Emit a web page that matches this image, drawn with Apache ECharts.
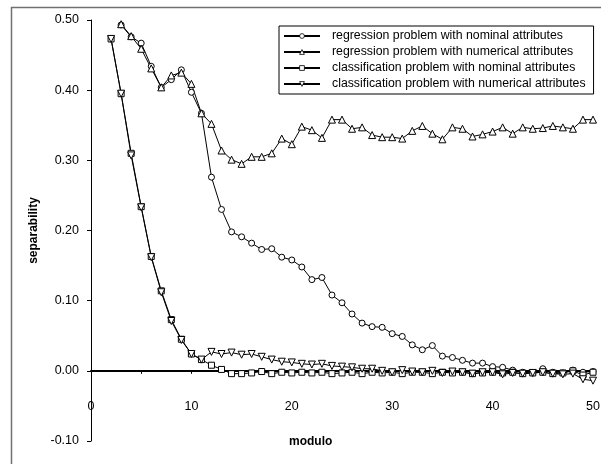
<!DOCTYPE html>
<html>
<head>
<meta charset="utf-8">
<script src="https://cdn.jsdelivr.net/npm/echarts@6/dist/echarts.min.js"></script>
<style>
html,body{margin:0;padding:0;background:#fff;}
#chart{width:601px;height:464px;}
</style>
</head>
<body>
<div id="chart"></div>
<script>
var modulo = [2,3,4,5,6,7,8,9,10,11,12,13,14,15,16,17,18,19,20,21,22,23,24,25,26,27,28,29,30,31,32,33,34,35,36,37,38,39,40,41,42,43,44,45,46,47,48,49,50];

var regNominal = [null,0.493,0.476,0.467,0.434,0.404,0.415,0.429,0.397,0.367,0.276,0.230,0.198,0.191,0.182,0.173,0.174,0.162,0.158,0.148,0.130,0.133,0.108,0.097,0.081,0.068,0.063,0.062,0.053,0.049,0.037,0.030,0.036,0.021,0.019,0.015,0.011,0.011,0.006,0.005,0.001,-0.002,-0.003,0.003,-0.002,-0.003,0.001,-0.002,-0.001];

var regNumerical = [null,0.494,0.477,0.459,0.431,0.404,0.421,0.425,0.409,0.367,0.352,0.314,0.301,0.295,0.305,0.305,0.310,0.331,0.323,0.348,0.343,0.332,0.358,0.358,0.345,0.347,0.336,0.333,0.333,0.331,0.342,0.349,0.338,0.330,0.347,0.345,0.334,0.337,0.341,0.347,0.338,0.347,0.345,0.346,0.349,0.347,0.345,0.358,0.358];

var clsNominal = [0.473,0.395,0.310,0.234,0.163,0.114,0.073,0.045,0.024,0.016,0.008,0.002,-0.004,-0.004,-0.003,-0.001,-0.004,-0.002,-0.003,-0.002,-0.003,-0.002,-0.004,-0.003,-0.002,-0.004,-0.002,-0.003,-0.002,-0.004,-0.002,-0.002,-0.004,-0.002,-0.003,-0.002,-0.004,-0.003,-0.002,-0.003,-0.002,-0.004,-0.003,-0.002,-0.004,-0.003,0.000,-0.006,-0.002];

var clsNumerical = [0.473,0.395,0.307,0.233,0.162,0.112,0.071,0.044,0.024,0.016,0.027,0.024,0.026,0.023,0.024,0.020,0.016,0.013,0.012,0.010,0.009,0.010,0.007,0.006,0.005,0.003,0.003,0.000,-0.002,0.001,-0.001,-0.002,0.000,-0.003,-0.001,-0.002,-0.004,-0.002,-0.002,-0.005,-0.003,-0.004,-0.003,-0.002,-0.004,-0.005,-0.004,-0.012,-0.014];

var seriesNames = [
  'regression problem with nominal attributes',
  'regression problem with numerical attributes',
  'classification problem with nominal attributes',
  'classification problem with numerical attributes'
];

function pairs(vals){
  var out = [];
  for (var i = 0; i < modulo.length; i++) {
    if (vals[i] !== null) out.push([modulo[i], vals[i]]);
  }
  return out;
}

var FONT = '"Liberation Sans", Arial, sans-serif';
var chart = echarts.init(document.getElementById('chart'), null, {renderer:'canvas'});

function mkSeries(name, vals, symbol, size){
  return {
    name: name,
    type: 'line',
    data: pairs(vals),
    symbol: symbol,
    symbolSize: size,
    showAllSymbol: true,
    lineStyle: {color:'#000', width:1},
    itemStyle: {color:'#fff', borderColor:'#000', borderWidth:1},
    emphasis: {disabled:true}
  };
}

var option = {
  animation: false,
  backgroundColor: '#fff',
  grid: {left:91, right:8, top:20, bottom:23, containLabel:false, outerBoundsMode:'none'},
  xAxis: {
    type: 'value',
    min: 0, max: 50, interval: 10,
    axisLine: {onZero:true, lineStyle:{color:'#000', width:2}},
    axisTick: {show:true, inside:false, length:3, lineStyle:{color:'#000', width:1}},
    minorTick: {show:true, splitNumber:2, length:3, lineStyle:{color:'#000', width:1}},
    axisLabel: {color:'#000', fontFamily:FONT, fontSize:12.5, margin:-41},
    splitLine: {show:false}
  },
  yAxis: {
    type: 'value',
    min: -0.1, max: 0.5, interval: 0.1,
    name: 'separability',
    nameLocation: 'middle',
    nameGap: 51,
    nameTextStyle: {color:'#000', fontFamily:FONT, fontSize:12, fontWeight:'bold'},
    axisLine: {show:true, onZero:false, lineStyle:{color:'#000', width:1}},
    axisTick: {show:true, inside:false, length:4, lineStyle:{color:'#000'}},
    axisLabel: {color:'#000', fontFamily:FONT, fontSize:12.5, margin:12,
      formatter: function(v){ return v.toFixed(2); }},
    splitLine: {show:false}
  },
  legend: {
    orient: 'vertical',
    left: 279, top: 26,
    padding: [3, 8, 3, 4],
    itemWidth: 36, itemHeight: 6, itemGap: 2,
    backgroundColor: '#fff',
    borderColor: '#000', borderWidth: 1,
    itemStyle: {color:'#fff', borderColor:'#000', borderWidth:0.8},
    textStyle: {color:'#000', fontFamily:FONT, fontSize:12.3, padding:[0,0,0,7], lineHeight:14},
    data: seriesNames
  },
  graphic: [
    {type:'rect', silent:true, z:-10,
     shape:{x:11.5, y:7.5, width:600, height:470},
     style:{fill:null, stroke:'#707070', lineWidth:1.5}},
    {type:'text', left:289, top:436,
     style:{text:'modulo', fill:'#000', font:'bold 12px "Liberation Sans", Arial, sans-serif'}}
  ],
  series: [
    mkSeries(seriesNames[0], regNominal, 'circle', 6),
    mkSeries(seriesNames[1], regNumerical, 'triangle', 7),
    mkSeries(seriesNames[2], clsNominal, 'rect', 6),
    mkSeries(seriesNames[3], clsNumerical, 'path://M0,0 L10,0 L5,9 Z', 7)
  ]
};
chart.setOption(option);
</script>
</body>
</html>
